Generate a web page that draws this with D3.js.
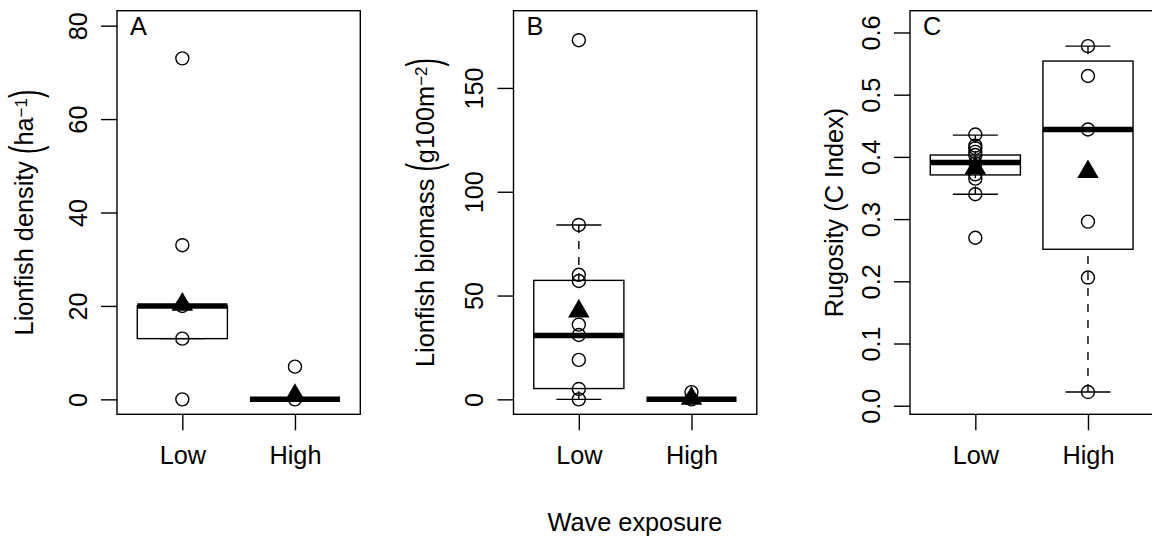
<!DOCTYPE html>
<html>
<head>
<meta charset="utf-8">
<script src="https://cdn.jsdelivr.net/npm/d3@7"></script>
<style>
  body { margin: 0; background: #fff; }
  svg { display: block; font-family: "Liberation Sans", Arial, sans-serif; }
</style>
</head>
<body>
<svg></svg>
<script>
// --------------- data

const groups = ['Low', 'High'];

// A: lionfish density
const densityPoints = [[0, 13, 20, 33, 73], [0, 7]];
// whisker low, Q1, median, Q3, whisker high
const densityBox = [[13, 13, 20, 20, 20], [0, 0, 0, 0, 0]];
const densityMean = [20.3, 0.8];
const densityTicks = [0, 20, 40, 60, 80];

// B: lionfish biomass
const biomassPoints = [[0, 5, 19, 31, 36, 57, 60, 84, 173], [0, 3.5]];
const biomassBox = [[0, 5.2, 30.7, 57.3, 84], [0, 0, 0, 0, 0]];
const biomassMean = [42.4, 0.4];
const biomassTicks = [0, 50, 100, 150];

// C: rugosity
const rugosityPoints = [
  [0.27, 0.34, 0.365, 0.372, 0.39, 0.403, 0.408, 0.414, 0.418, 0.436],
  [0.022, 0.206, 0.296, 0.444, 0.53, 0.578]
];
const rugosityBox = [[0.34, 0.371, 0.391, 0.403, 0.435], [0.022, 0.2515, 0.444, 0.554, 0.578]];
const rugosityMean = [0.382, 0.376];
const rugosityTicks = [0, 0.1, 0.2, 0.3, 0.4, 0.5, 0.6];

// --------------- setup

const svg = d3.select('svg').attr('width', 1152).attr('height', 538);

const plotTop = 10.7;
const plotBottom = 414.3;
const plotW = 243.3;
const left0 = 117;
const step = 396.5;
const fs = 25.3;
const lw = 1.4;

function panel(i, letter, pts, box, mean, ticks, yDomain, fmt, labelParts, labelOffset) {
  const left = left0 + i * step;
  const x = d3.scaleLinear().domain([0.42, 2.58]).range([left, left + plotW]);
  const y = d3.scaleLinear().domain(yDomain).range([plotBottom, plotTop]);
  const half = x(1.4) - x(1);
  const g = svg.append('g');

  // boxes
  box.forEach(function (s, j) {
    const cx = x(j + 1);
    // whiskers, dashed from the end towards the box
    [[s[0], s[1]], [s[4], s[3]]].forEach(function (w) {
      if (w[0] !== w[1]) {
        g.append('line')
          .attr('x1', cx).attr('x2', cx)
          .attr('y1', y(w[0])).attr('y2', y(w[1]))
          .attr('stroke', '#000').attr('stroke-width', lw)
          .attr('stroke-dasharray', '8,8');
      }
    });
    // staples
    [s[0], s[4]].forEach(function (v) {
      g.append('line')
        .attr('x1', cx - half / 2).attr('x2', cx + half / 2)
        .attr('y1', y(v)).attr('y2', y(v))
        .attr('stroke', '#000').attr('stroke-width', lw);
    });
    g.append('rect')
      .attr('x', cx - half).attr('width', 2 * half)
      .attr('y', y(s[3])).attr('height', y(s[1]) - y(s[3]))
      .attr('fill', 'none').attr('stroke', '#000').attr('stroke-width', lw);
    g.append('line')
      .attr('x1', cx - half).attr('x2', cx + half)
      .attr('y1', y(s[2])).attr('y2', y(s[2]))
      .attr('stroke', '#000').attr('stroke-width', 5.5);
  });

  // points
  pts.forEach(function (vals, j) {
    g.selectAll(null).data(vals).enter()
      .append('circle')
      .attr('cx', x(j + 1))
      .attr('cy', function (d) { return y(d); })
      .attr('r', 6.5)
      .attr('fill', 'none')
      .attr('stroke', '#000')
      .attr('stroke-width', lw);
  });

  // means
  g.selectAll(null).data(mean).enter()
    .append('path')
    .attr('d', d3.symbol(d3.symbolTriangle, 200))
    .attr('transform', function (d, j) {
      return 'translate(' + x(j + 1) + ',' + y(d) + ')';
    })
    .attr('fill', '#000');

  // frame
  g.append('rect')
    .attr('x', left).attr('y', plotTop)
    .attr('width', plotW).attr('height', plotBottom - plotTop)
    .attr('fill', 'none').attr('stroke', '#000').attr('stroke-width', lw);

  // axes
  const ya = g.append('g')
    .attr('transform', 'translate(' + left + ',0)')
    .call(d3.axisLeft(y).tickValues(ticks).tickSize(16).tickFormat(fmt));
  ya.select('.domain').remove();
  ya.selectAll('line').attr('stroke-width', lw);
  ya.selectAll('text')
    .attr('x', null).attr('dy', null)
    .attr('transform', 'translate(-30.5,0) rotate(-90)')
    .attr('text-anchor', 'middle')
    .attr('font-size', fs)
    .attr('font-family', null)
    .attr('fill', '#000');

  const xa = g.append('g')
    .attr('transform', 'translate(0,' + plotBottom + ')')
    .call(d3.axisBottom(x).tickValues([1, 2]).tickSize(16)
      .tickFormat(function (d) { return groups[d - 1]; }));
  xa.select('.domain').remove();
  xa.selectAll('line').attr('stroke-width', lw);
  xa.selectAll('text')
    .attr('y', 49.7).attr('dy', null)
    .attr('font-size', fs)
    .attr('font-family', null)
    .attr('fill', '#000');

  // panel letter
  g.append('text')
    .attr('x', left + 13).attr('y', 35)
    .attr('font-size', fs)
    .text(letter);

  // y label: pieces laid out along the (rotated) baseline
  // [text, size, shift, vertical stretch, gap after]
  const lg = g.append('g');
  let run = 0;
  labelParts.forEach(function (p) {
    const t = lg.append('text')
      .attr('font-size', p[1])
      .attr('transform', 'translate(' + run + ',' + p[2] + ') scale(1,' + p[3] + ')')
      .text(p[0]);
    run += t.node().getComputedTextLength() + p[4];
  });
  lg.attr('transform', 'translate(' + (left - labelOffset) + ',' + ((plotTop + plotBottom) / 2) +
    ') rotate(-90) translate(' + (-run / 2) + ',0)');
}

panel(0, 'A', densityPoints, densityBox, densityMean, densityTicks,
  [-3.2, 83.2], d3.format('d'),
  [['Lionfish density', fs, 0, 1, 7], ['(', fs, 7, 1.75, 0], ['ha', fs, 0, 1, 0],
   ['\u22121', 17, -6, 1, 0], [')', fs, 7, 1.75, 0]],
  83.7);

panel(1, 'B', biomassPoints, biomassBox, biomassMean, biomassTicks,
  [-7.2, 187.2], d3.format('d'),
  [['Lionfish biomass', fs, 0, 1, 7], ['(', fs, 5, 1.8, 0], ['g100m', fs, 0, 1, 0],
   ['\u22122', 17, -7, 1, 0], [')', fs, 5, 1.8, 0]],
  80);

panel(2, 'C', rugosityPoints, rugosityBox, rugosityMean, rugosityTicks,
  [-0.0138, 0.635], d3.format('.1f'),
  [['Rugosity (C Index)', fs, 0, 1, 0]],
  66.7);

svg.append('text')
  .attr('x', 635).attr('y', 530.5)
  .attr('text-anchor', 'middle')
  .attr('font-size', fs)
  .text('Wave exposure');
</script>
</body>
</html>
